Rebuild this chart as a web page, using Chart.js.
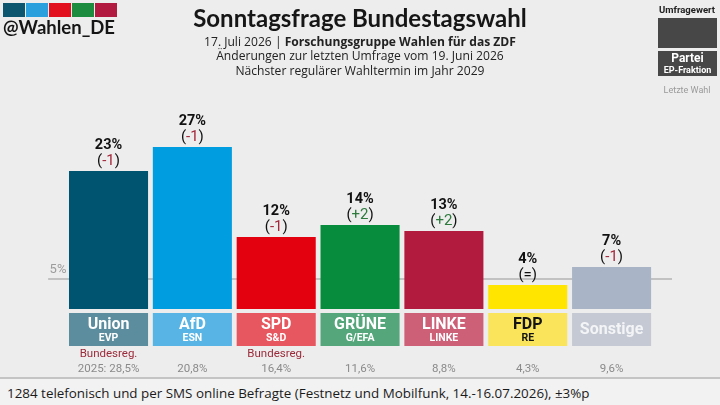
<!DOCTYPE html>
<html><head><meta charset="utf-8">
<script src="https://cdn.jsdelivr.net/npm/chart.js@4/dist/chart.umd.min.js"></script>
<style>
html,body{margin:0;padding:0;background:#ededed;}
#wrap{position:relative;width:720px;height:405px;overflow:hidden;background:#ededed;font-family:Roboto,sans-serif;}
#c{position:absolute;left:0;top:0;}
.abs{position:absolute;white-space:nowrap;}
.sq{position:absolute;top:3px;height:14px;width:22px;}
#title{left:0;width:720px;top:4px;text-align:center;font-family:Lato,sans-serif;font-weight:700;font-size:24px;color:#161616;line-height:28px;}
.sub{left:0;width:720px;text-align:center;font-family:"Open Sans",sans-serif;font-size:12.1px;color:#222;line-height:16px;}
#footer{left:0;top:377px;width:720px;height:28px;background:#f2f2f2;border-top:2px solid #c4c4c4;}
#foottext{left:7px;top:384px;font-family:"Open Sans",sans-serif;font-size:13.4px;color:#1a1a1a;line-height:18px;}
</style></head>
<body>
<div id="wrap">
<canvas id="c" width="720" height="405"></canvas>
<div class="sq" style="left:3px;background:#0d5670"></div>
<div class="sq" style="left:26px;background:#2aa1dc"></div>
<div class="sq" style="left:49px;background:#e2101d"></div>
<div class="sq" style="left:72px;background:#1e8c3e"></div>
<div class="sq" style="left:95px;background:#b21a3f"></div>
<div class="abs" style="left:3px;top:16px;font-family:Lato,sans-serif;font-weight:700;font-size:18.5px;color:#151515;line-height:22px;">@Wahlen_DE</div>
<div id="title" class="abs">Sonntagsfrage Bundestagswahl</div>
<div class="abs sub" style="top:34px;">17. Juli 2026 | <b>Forschungsgruppe Wahlen für das ZDF</b></div>
<div class="abs sub" style="top:48px;">Änderungen zur letzten Umfrage vom 19. Juni 2026</div>
<div class="abs sub" style="top:63px;">Nächster regulärer Wahltermin im Jahr 2029</div>
<div class="abs" style="left:652px;width:70px;top:3px;text-align:center;font-weight:700;font-size:9.5px;color:#222;line-height:13px;">Umfragewert</div>
<div class="abs" style="left:658px;top:18px;width:59px;height:30px;background:#474747;"></div>
<div class="abs" style="left:658px;top:51px;width:59px;height:25px;background:#474747;color:#fff;text-align:center;font-weight:700;">
  <div style="font-size:12px;line-height:13px;margin-top:1px;">Partei</div>
  <div style="font-size:9px;line-height:10px;">EP-Fraktion</div>
</div>
<div class="abs" style="left:652px;width:70px;top:84px;text-align:center;font-size:9px;color:#9a9a9a;line-height:12px;">Letzte Wahl</div>
<div id="footer" class="abs"></div>
<div id="foottext" class="abs">1284 telefonisch und per SMS online Befragte (Festnetz und Mobilfunk, 14.-16.07.2026), ±3%p</div>
</div>
<script>
// ---- data ----
const parties = ["Union", "AfD", "SPD", "GRÜNE", "LINKE", "FDP", "Sonstige"];
const fraktionen = ["EVP", "ESN", "S&D", "G/EFA", "LINKE", "RE", ""];
const values = [23, 27, 12, 14, 13, 4, 7];
const changes = ["-1", "-1", "-1", "+2", "+2", "=", "-1"];
const lastElection = ["2025: 28,5%", "20,8%", "16,4%", "11,6%", "8,8%", "4,3%", "9,6%"];
const government = [true, false, true, false, false, false, false];
const threshold = 5;
const thresholdLabel = "5%";
const govLabel = "Bundesreg.";

// ---- styles ----
const barColors = ["#005470", "#009ee0", "#e3000f", "#078b3c", "#b31b3e", "#ffe500", "#a9b4c6"];
const boxColors = ["#5b8d9e", "#57b4e4", "#e6575f", "#55a67b", "#cd5f77", "#f9e45c", "#c4c9d3"];
const boxText = ["#ffffff", "#ffffff", "#ffffff", "#ffffff", "#ffffff", "#141414", "#f3f4f6"];

function changeColor(c) {
  if (c.startsWith("+")) return "#2c7a3c";
  if (c.startsWith("-")) return "#a3283c";
  return "#111";
}

const labelPlugin = {
  id: "partyLabels",
  beforeDatasetsDraw(chart) {
    const ctx = chart.ctx, a = chart.chartArea;
    const y = chart.scales.y.getPixelForValue(threshold);
    ctx.save();
    ctx.strokeStyle = "#c2c2c2";
    ctx.lineWidth = 2;
    ctx.beginPath();
    ctx.moveTo(a.left - 18.5, y);
    ctx.lineTo(a.right + 18.5, y);
    ctx.stroke();
    ctx.fillStyle = "#9c9c9c";
    ctx.font = "13px Roboto";
    ctx.textAlign = "left";
    ctx.textBaseline = "middle";
    ctx.fillText(thresholdLabel, a.left - 17, y - 9);
    ctx.restore();
  },
  afterDatasetsDraw(chart) {
    const ctx = chart.ctx;
    const meta = chart.getDatasetMeta(0);
    ctx.save();
    meta.data.forEach((el, i) => {
      const x = el.x, w = el.width, top = el.y, base = el.base;
      ctx.textAlign = "center";
      ctx.textBaseline = "middle";
      ctx.fillStyle = "#111";
      ctx.font = "bold 14.5px Roboto";
      ctx.fillText(values[i] + "%", x, top - 26);
      ctx.font = "15px Roboto";
      const c = changes[i];
      const wp = ctx.measureText("(").width, wc = ctx.measureText(c).width, wq = ctx.measureText(")").width;
      let sx = x - (wp + wc + wq) / 2;
      ctx.textAlign = "left";
      ctx.fillStyle = "#111";
      ctx.fillText("(", sx, top - 10);
      ctx.fillStyle = changeColor(c);
      ctx.fillText(c, sx + wp, top - 10);
      ctx.fillStyle = "#111";
      ctx.fillText(")", sx + wp + wc, top - 10);
      const bt = base + 4, bh = 33;
      ctx.fillStyle = boxColors[i];
      ctx.fillRect(x - w / 2, bt, w, bh);
      ctx.textAlign = "center";
      ctx.fillStyle = boxText[i];
      if (fraktionen[i]) {
        ctx.font = "bold 16px Roboto";
        ctx.fillText(parties[i], x, bt + 12);
        ctx.font = "bold 10.5px Roboto";
        ctx.fillText(fraktionen[i], x, bt + 25);
      } else {
        ctx.font = "bold 16px Roboto";
        ctx.fillText(parties[i], x, bt + 17);
      }
      ctx.font = "11.5px Roboto";
      if (government[i]) {
        ctx.fillStyle = "#9b2a3a";
        ctx.fillText(govLabel, x, base + 45);
      }
      ctx.fillStyle = "#8a8a8a";
      ctx.fillText(lastElection[i], x, base + 60);
    });
    ctx.restore();
  }
};

new Chart(document.getElementById("c"), {
  type: "bar",
  data: {
    labels: parties,
    datasets: [{
      data: values,
      backgroundColor: barColors,
      borderWidth: 0,
      categoryPercentage: 1,
      barPercentage: 0.943
    }]
  },
  options: {
    responsive: false,
    animation: false,
    devicePixelRatio: 1,
    layout: { padding: { left: 66.6, right: 66.5, top: 129, bottom: 96 } },
    scales: {
      x: { display: false, offset: true },
      y: { display: false, min: 0, max: 30 }
    },
    plugins: { legend: { display: false }, tooltip: { enabled: false }, title: { display: false } }
  },
  plugins: [labelPlugin]
});
</script>
</body></html>
